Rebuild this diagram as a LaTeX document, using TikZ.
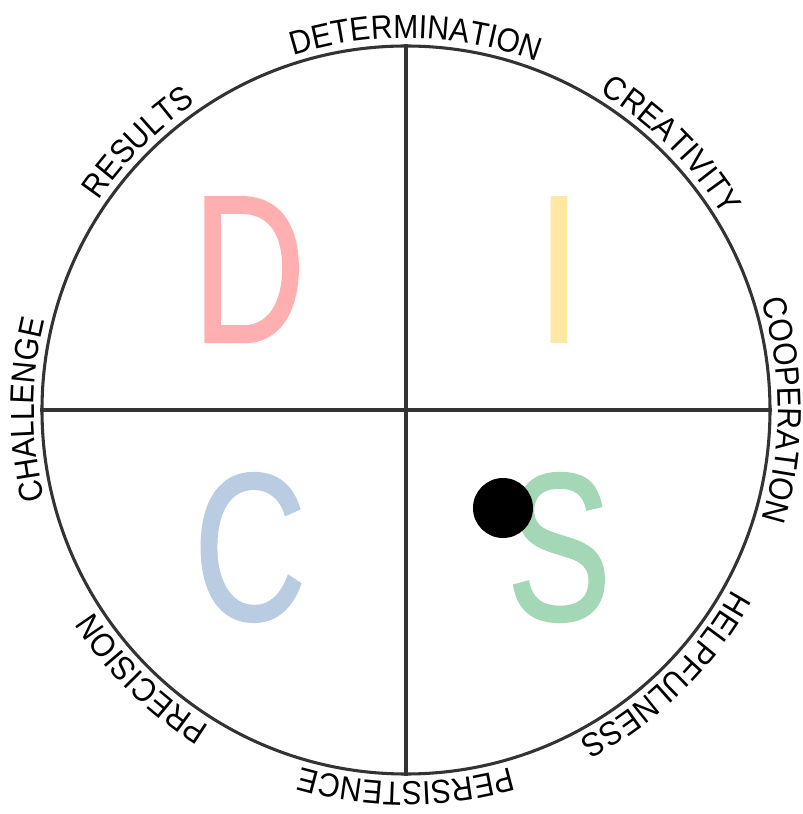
\documentclass[tikz,border=0pt]{standalone}
\usepackage{fontspec}
\setmainfont[FakeStretch=0.9]{Liberation Sans}
\newfontfamily\discfont[FakeStretch=0.74, FakeBold=1]{Liberation Sans}
\usetikzlibrary{decorations.text}
\definecolor{ringgray}{HTML}{333333}
\definecolor{dred}{HTML}{FFAFAF}
\definecolor{iyellow}{HTML}{FFE8A3}
\definecolor{cblue}{HTML}{B9CCE2}
\definecolor{sgreen}{HTML}{A3D7B5}
\newcommand{\labelfont}{\fontsize{25}{30}\selectfont}

\begin{document}
\begin{tikzpicture}[x=0.75pt, y=0.75pt,
    ring/.style={draw=ringgray, line width=2.3pt},
    quadletter/.style={font=\discfont\fontsize{158}{165}\selectfont, anchor=base, inner sep=0pt},
    ringlabel/.style={decorate, decoration={text along path, text align=center, text={|\labelfont|#1}}}
  ]
  \useasboundingbox (-406,-404) rectangle (397,410);

  % circle and the two axes
  \node[ring, circle, minimum size=546pt, inner sep=0pt] (disc) at (0,0) {};
  \draw[ring] (disc.north) -- (disc.south);
  \draw[ring] (disc.west) -- (disc.east);

  % quadrant letters
  \node[quadletter, text=dred]    (D) at (-157,68)  {D};
  \node[quadletter, text=iyellow] (I) at (153,68)   {I};
  \node[quadletter, text=cblue]   (C) at (-156,-210) {C};
  \node[quadletter, text=sgreen]  (S) at (153,-210) {S};

  % position marker
  \node[fill=black, circle, minimum size=45pt, inner sep=0pt] (marker) at (97,-98) {};

  % words round the rim, all clockwise
  \path[ringlabel=DETERMINATION] (128.5:372) arc[start angle=128.5, end angle=48.5, radius=372];
  \path[ringlabel=CREATIVITY]    (85:372)  arc[start angle=85, end angle=5, radius=372];
  \path[ringlabel=COOPERATION]   (40:372)  arc[start angle=40, end angle=-40, radius=372];
  \path[ringlabel=HELPFULNESS]   (-5.5:372)  arc[start angle=-5.5, end angle=-85.5, radius=372];
  \path[ringlabel=PERSISTENCE]   (-50:372) arc[start angle=-50, end angle=-130, radius=372];
  \path[ringlabel=PRECISION]     (-94.5:372) arc[start angle=-94.5, end angle=-174.5, radius=372];
  \path[ringlabel=CHALLENGE]     (220:372) arc[start angle=220, end angle=140, radius=372];
  \path[ringlabel=RESULTS]       (175:372) arc[start angle=175, end angle=95, radius=372];
\end{tikzpicture}
\end{document}
